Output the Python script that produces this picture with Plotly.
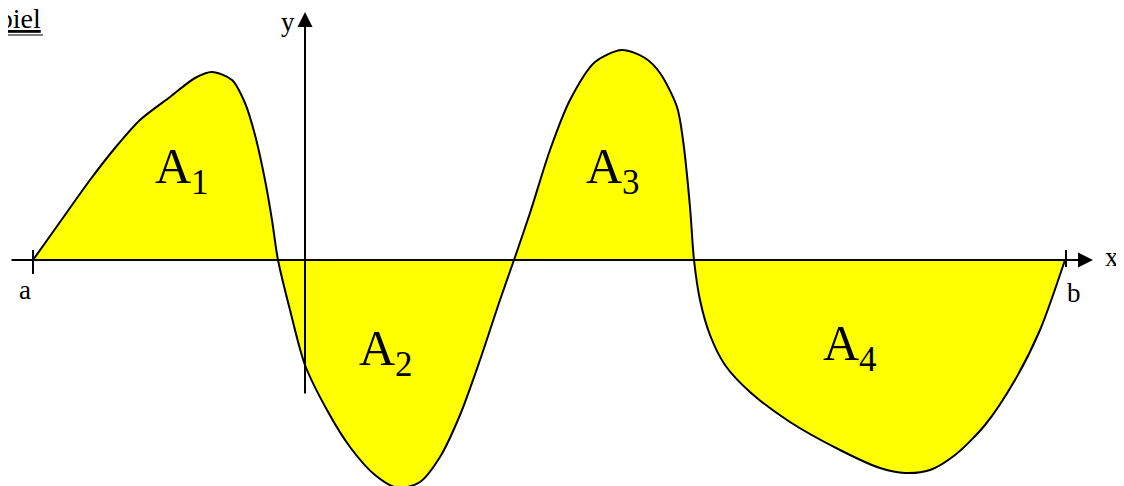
import plotly.graph_objects as go

# Curve (x, y) in chart units; origin at the axes' intersection
curve_x = [-2.72, -2.45, -2.15, -1.90, -1.65, -1.35, -1.10, -0.93, -0.73, -0.60, -0.50, -0.40, -0.33, -0.27,
           -0.15, 0.00, 0.22, 0.45, 0.70, 0.93, 1.15, 1.35, 1.55, 1.75, 1.95, 2.09,
           2.25, 2.45, 2.65, 2.90, 3.17, 3.40, 3.55, 3.72, 3.78, 3.85, 3.89,
           3.95, 4.05, 4.20, 4.45, 4.85, 5.35, 5.75, 6.00, 6.25, 6.50, 6.80, 7.10, 7.35, 7.60]
curve_y = [0.00, 0.38, 0.80, 1.12, 1.40, 1.63, 1.82, 1.88, 1.80, 1.57, 1.25, 0.80, 0.40, 0.00,
           -0.50, -1.05, -1.50, -1.87, -2.15, -2.28, -2.22, -1.97, -1.55, -1.00, -0.40, 0.00,
           0.47, 1.10, 1.60, 1.98, 2.10, 2.02, 1.87, 1.53, 1.20, 0.53, 0.00,
           -0.40, -0.75, -1.05, -1.32, -1.62, -1.90, -2.08, -2.13, -2.10, -1.95, -1.65, -1.20, -0.70, 0.00]

a_x = -2.72
b_x = 7.61
area_labels = ["A<sub>1</sub>", "A<sub>2</sub>", "A<sub>3</sub>", "A<sub>4</sub>"]
area_x = [-1.23, 0.81, 3.08, 5.45]
area_y = [0.90, -0.92, 0.90, -0.87]

# page has an 8px body margin; figure sized to fit the window
W, H, OFF = 1116, 478, 8
X_RANGE = [-2.97, 8.19]
Y_RANGE = [-2.26, 2.52]
SERIF = "Liberation Serif, Times New Roman, serif"

fig = go.Figure()
fig.add_trace(go.Scatter(
    x=curve_x, y=curve_y, mode="lines",
    line=dict(color="black", width=2, shape="spline", smoothing=0.8),
    fill="tozeroy", fillcolor="#FFFF00", hoverinfo="skip", showlegend=False,
))

annotations = []
# x axis with arrow
annotations.append(dict(x=7.88, y=0, ax=-2.95, ay=0, xref="x", yref="y", axref="x", ayref="y",
                        showarrow=True, arrowhead=2, arrowsize=1.5, arrowwidth=2,
                        arrowcolor="black", text=""))
# y axis with arrow
annotations.append(dict(x=0, y=2.48, ax=0, ay=-1.35, xref="x", yref="y", axref="x", ayref="y",
                        showarrow=True, arrowhead=2, arrowsize=1.5, arrowwidth=2,
                        arrowcolor="black", text=""))
# axis / end labels
for txt, x, y in [("x", 8.07, 0.03), ("y", -0.17, 2.38), ("a", -2.80, -0.30), ("b", 7.69, -0.33)]:
    annotations.append(dict(x=x, y=y, xref="x", yref="y", text=txt, showarrow=False,
                            font=dict(family=SERIF, size=27, color="black"),
                            xanchor="center", yanchor="middle"))
# area labels
for txt, x, y in zip(area_labels, area_x, area_y):
    annotations.append(dict(x=x, y=y, xref="x", yref="y", text=txt, showarrow=False,
                            font=dict(family=SERIF, size=50, color="black"),
                            xanchor="center", yanchor="middle"))
# cut-off heading
annotations.append(dict(x=(43 - OFF) / W, y=1 - (18 - OFF) / H, xref="paper", yref="paper",
                        text="<u>Beispiel</u>", showarrow=False,
                        font=dict(family=SERIF, size=28, color="black"),
                        xanchor="right", yanchor="middle"))

shapes = [
    dict(type="line", x0=a_x, x1=a_x, y0=0.10, y1=-0.14, xref="x", yref="y",
         line=dict(color="black", width=2)),
    dict(type="line", x0=b_x, x1=b_x, y0=0.10, y1=-0.07, xref="x", yref="y",
         line=dict(color="black", width=2)),
    dict(type="line", x0=0, x1=(43 - OFF) / W, y0=1 - (35 - OFF) / H, y1=1 - (35 - OFF) / H,
         xref="paper", yref="paper", line=dict(color="black", width=1)),
]

fig.update_layout(
    width=W, height=H, autosize=False,
    margin=dict(l=0, r=0, t=0, b=0),
    paper_bgcolor="white", plot_bgcolor="white",
    xaxis=dict(range=X_RANGE, visible=False, fixedrange=True),
    yaxis=dict(range=Y_RANGE, visible=False, fixedrange=True),
    annotations=annotations, shapes=shapes, showlegend=False,
)

fig.write_html("out.html")
